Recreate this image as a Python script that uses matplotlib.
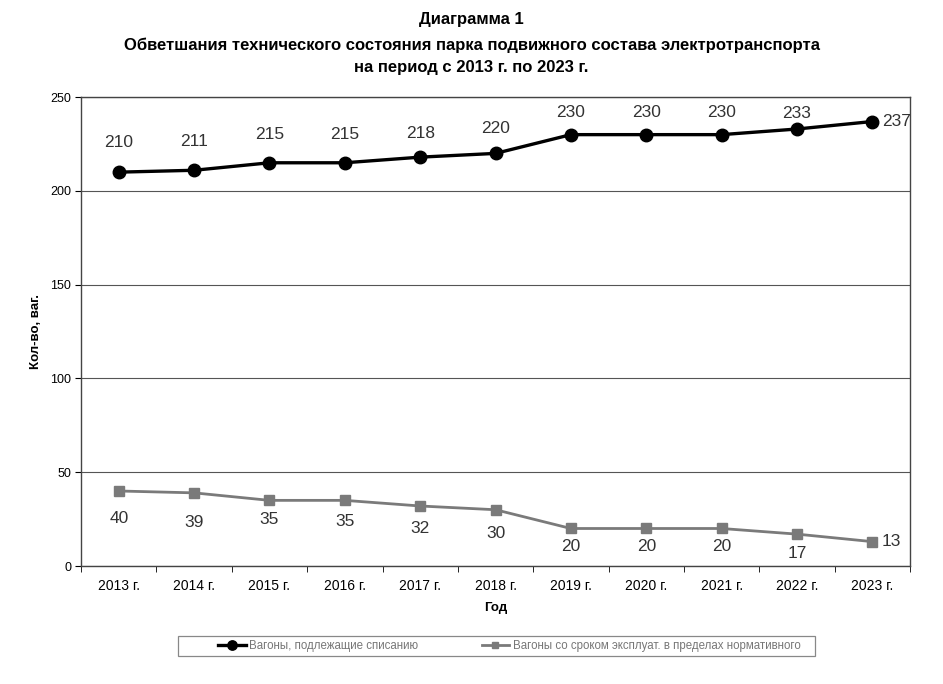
import numpy as np
import matplotlib.pyplot as plt
from matplotlib.patches import Rectangle

plt.rcParams['font.family'] = ['Liberation Sans', 'DejaVu Sans']

years = ['2013 г.', '2014 г.', '2015 г.', '2016 г.', '2017 г.', '2018 г.',
         '2019 г.', '2020 г.', '2021 г.', '2022 г.', '2023 г.']
writeoff = [210, 211, 215, 215, 218, 220, 230, 230, 230, 233, 237]
normal = [40, 39, 35, 35, 32, 30, 20, 20, 20, 17, 13]

# vertical offsets of the value labels (points), as Excel placed them
top_off = [21, 21, 20, 20, 17, 18, 16, 16, 16, 11]
bot_off = [20, 21, 14, 15, 16, 17, 13, 13, 13, 14]

fig = plt.figure(figsize=(9.43, 6.84), dpi=100)
ax = fig.add_axes([0.086, 0.1725, 0.879, 0.6855])

x = np.arange(len(years))
ax.plot(x, writeoff, color='black', lw=2.4, marker='o', ms=9, label='Вагоны, подлежащие списанию')
ax.plot(x, normal, color='#7a7a7a', lw=2.0, marker='s', ms=6.5,
        label='Вагоны со сроком эксплуат. в пределах нормативного')

for i, v in enumerate(writeoff):
    if i == len(x) - 1:
        ax.annotate(str(v), (i, v), xytext=(7, 0), textcoords='offset points',
                    ha='left', va='center', fontsize=12.5, color='#333333')
    else:
        ax.annotate(str(v), (i, v), xytext=(0, top_off[i]), textcoords='offset points',
                    ha='center', va='center', fontsize=12.5, color='#333333')
for i, v in enumerate(normal):
    if i == len(x) - 1:
        ax.annotate(str(v), (i, v), xytext=(7, 0), textcoords='offset points',
                    ha='left', va='center', fontsize=12.5, color='#333333')
    else:
        ax.annotate(str(v), (i, v), xytext=(0, -bot_off[i]), textcoords='offset points',
                    ha='center', va='center', fontsize=12.5, color='#333333')

ax.set_xlim(-0.5, len(x) - 0.5)
ax.set_ylim(0, 250)
ax.set_yticks([0, 50, 100, 150, 200, 250])
ax.set_xticks(x)
ax.set_xticklabels(years, fontsize=10)
ax.set_xticks(np.arange(-0.5, len(x)), minor=True)
ax.tick_params(axis='x', which='major', length=0, pad=9)
ax.tick_params(axis='x', which='minor', length=4, direction='out')
ax.tick_params(axis='y', labelsize=9, length=4, direction='out', pad=3)
ax.yaxis.grid(True, color='#555555', lw=0.8)
ax.set_axisbelow(True)
for s in ax.spines.values():
    s.set_color('#444444')
    s.set_linewidth(1)

ax.set_xlabel('Год', fontsize=9.5, fontweight='bold', labelpad=7)
ax.set_ylabel('Кол-во, ваг.', fontsize=9.5, fontweight='bold', labelpad=6)

fig.text(0.5, 0.972, 'Диаграмма 1', ha='center', va='center', fontsize=12, fontweight='bold')
fig.text(0.5, 0.934, 'Обветшания технического состояния парка подвижного состава электротранспорта',
         ha='center', va='center', fontsize=12, fontweight='bold')
fig.text(0.5, 0.902, 'на период с 2013 г. по 2023 г.', ha='center', va='center',
         fontsize=12, fontweight='bold')

# legend box drawn separately, Excel leaves wide margins inside it
fig.patches.append(Rectangle((0.189, 0.041), 0.6755, 0.029, transform=fig.transFigure,
                             fill=False, edgecolor='#888888', lw=0.9))
leg = fig.legend(loc='center', bbox_to_anchor=(0.54, 0.0555), ncol=2, fontsize=8.3,
                 frameon=False, columnspacing=5.5, handlelength=2.4, handletextpad=0.3,
                 markerscale=0.75)
for t in leg.get_texts():
    t.set_color('#777777')

fig.savefig('out.png', dpi=100)
